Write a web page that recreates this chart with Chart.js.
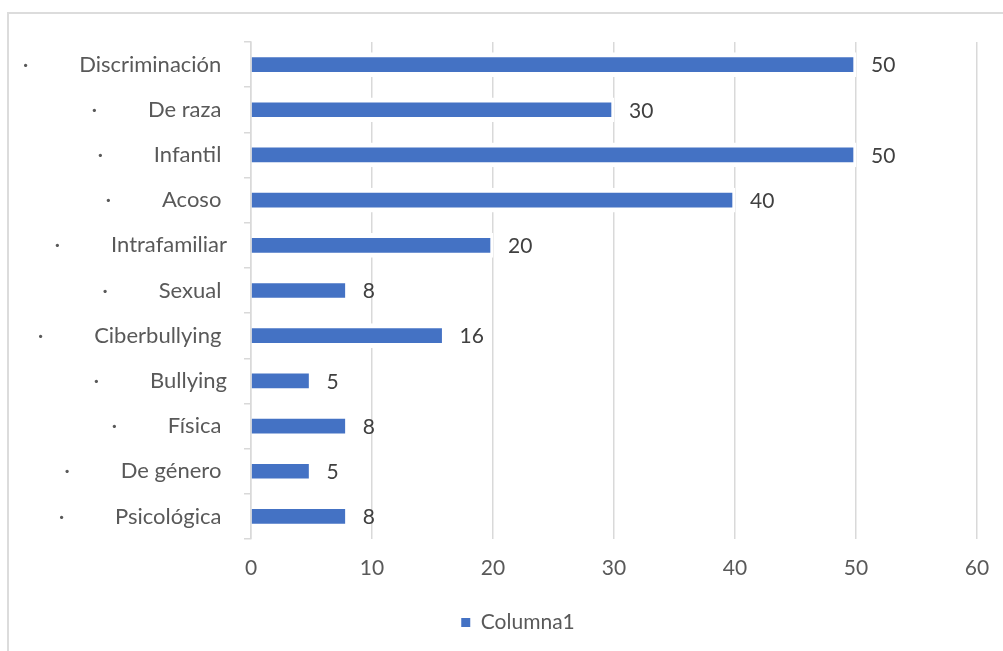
<!DOCTYPE html>
<html>
<head>
<meta charset="utf-8">
<script src="https://cdn.jsdelivr.net/npm/chart.js@4/dist/chart.umd.min.js"></script>
<style>
  html, body { margin: 0; padding: 0; background: #fff; overflow: hidden; width: 1003px; height: 651px; }
  #frame { position: absolute; left: 7px; top: 12px; width: 1100px; height: 800px; border: 2px solid #dcdcdc; box-sizing: border-box; }
  #wrap { position: absolute; left: 0; top: 0; width: 1036px; height: 651px; }
</style>
</head>
<body>
<div id="frame"></div>
<div id="wrap"><canvas id="chart"></canvas></div>
<script>
/* data */
const categories = ["Discriminación ", "De raza ", "Infantil ", "Acoso ", "Intrafamiliar", "Sexual ",
  "Ciberbullying ", "Bullying", "Física ", "De género ", "Psicológica "];
const values = [50, 30, 50, 40, 20, 8, 16, 5, 8, 5, 8];
const xMin = 0, xMax = 60, xStep = 10;
const seriesName = "Columna1";

const FONT = "Lato";
const TXT = "#595959";
const GRID = "#d9d9d9";
const BLUE = "#4472C4";
const BULLET = "·" + " ".repeat(9);

/* value labels to the right of each bar */
const valueLabels = {
  id: "valueLabels",
  afterDatasetsDraw(chart) {
    const ctx = chart.ctx;
    const meta = chart.getDatasetMeta(0);
    ctx.save();
    ctx.font = "21px " + FONT;
    ctx.fillStyle = "#404040";
    ctx.textAlign = "left";
    ctx.textBaseline = "middle";
    meta.data.forEach((bar, i) => ctx.fillText(String(values[i]), bar.x + 15, bar.y + 1));
    ctx.restore();
  }
};

/* the legend sits centred under the whole chart box, not only the plot */
const legendShift = {
  id: "legendShift",
  afterLayout(chart) {
    const l = chart.legend;
    if (!l) return;
    l.left += 29.5;
    l.right += 29.5;
  }
};

new Chart(document.getElementById("chart"), {
  type: "bar",
  data: {
    labels: categories,
    datasets: [{
      label: seriesName,
      data: values,
      backgroundColor: BLUE,
      borderColor: "#ffffff",
      borderWidth: { top: 5, bottom: 5, right: 3, left: 0 },
      borderSkipped: false,
      barThickness: 24
    }]
  },
  options: {
    indexAxis: "y",
    responsive: true,
    maintainAspectRatio: false,
    animation: false,
    layout: { padding: { left: 0, right: 59, top: 42, bottom: 8 } },
    scales: {
      x: {
        min: xMin, max: xMax,
        ticks: { stepSize: xStep, color: TXT, font: { family: FONT, size: 21 }, padding: 17 },
        grid: { color: GRID, lineWidth: 1.5, drawTicks: false },
        border: { display: false },
        afterFit: (s) => { s.height = 63; }
      },
      y: {
        ticks: {
          color: TXT, font: { family: FONT, size: 22 }, padding: 17,
          callback: (v, i) => BULLET + categories[i]
        },
        grid: { color: GRID, lineWidth: 1.5, drawOnChartArea: false, tickLength: 7 },
        border: { color: GRID, width: 1.5 },
        afterFit: (s) => { s.width = 251; }
      }
    },
    plugins: {
      tooltip: { enabled: false },
      legend: {
        position: "bottom",
        labels: {
          color: TXT, font: { family: FONT, size: 21 }, boxWidth: 9, boxHeight: 9, padding: 10,
          generateLabels: () => [{ text: seriesName, fillStyle: BLUE, strokeStyle: BLUE, lineWidth: 0, hidden: false, datasetIndex: 0, fontColor: TXT }]
        }
      }
    }
  },
  plugins: [valueLabels, legendShift]
});
</script>
</body>
</html>
